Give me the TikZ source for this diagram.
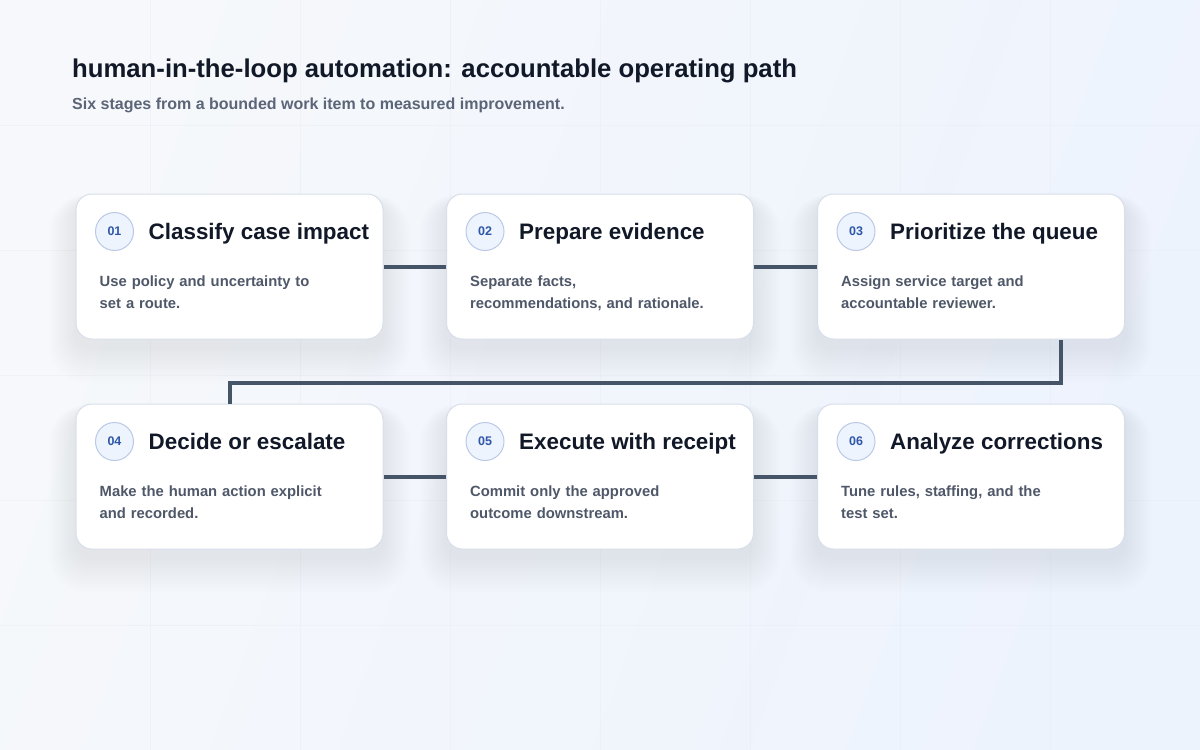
\documentclass[tikz,border=0pt]{standalone}
\usepackage{fontspec}
\setmainfont{Liberation Sans}
\usetikzlibrary{calc}

\definecolor{bgA}{HTML}{F6F8FB}
\definecolor{bgB}{HTML}{EDF3FD}
\definecolor{gridc}{HTML}{E6EBF3}
\definecolor{cardborder}{HTML}{D8DFEB}
\definecolor{titlec}{HTML}{111827}
\definecolor{subc}{HTML}{5B6577}
\definecolor{descc}{HTML}{4F5869}
\definecolor{linec}{HTML}{465467}
\definecolor{circfill}{HTML}{EEF4FE}
\definecolor{circborder}{HTML}{B9C9E6}
\definecolor{numc}{HTML}{2F57A8}
\definecolor{shadowc}{HTML}{8496C2}

\tikzset{
  card/.style={draw=cardborder, line width=1pt, fill=white, rounded corners=16pt,
    minimum width=307pt, minimum height=145pt, inner sep=0pt},
  numcirc/.style={circle, draw=circborder, line width=1pt, fill=circfill,
    minimum size=38pt, inner sep=0pt, text=numc, font=\fontsize{12.5}{14}\selectfont\bfseries},
  cardtitle/.style={anchor=base west, inner sep=0pt, text=titlec,
    font=\fontsize{22.4}{26}\selectfont\bfseries},
  carddesc/.style={anchor=base west, inner sep=0pt, text=descc, align=left,
    text width=260pt, font=\fontsize{14.8}{22}\selectfont\bfseries},
  conn/.style={draw=linec, line width=4pt, line join=miter},
}

\newcommand{\stageshadow}[2]{%
  \foreach \i in {1,...,18} {
    \fill[shadowc, opacity=0.009, rounded corners={16pt+1.2*\i pt}]
      ($(#1,#2)+(-153.5-1.5*\i,-72.5-0.4*\i+8)$) rectangle
      ($(#1,#2)+(153.5+1.5*\i,72.5+2.0*\i+8)$);
  }
}
\newcommand{\stagecard}[6]{%
  % #1 name, #2 x, #3 y (centre), #4 number, #5 title, #6 description
  \node[card] (#1) at (#2,#3) {};
  \node[numcirc] (#1n) at ($(#1.north west)+(39,38)$) {#4};
  \node[cardtitle] (#1t) at ($(#1.north west)+(73,46)$) {#5};
  \node[carddesc] (#1d) at ($(#1.north west)+(24,93)$) {#6};
}

\begin{document}
\begin{tikzpicture}[x=1pt,y=-1pt]
\useasboundingbox (0,0) rectangle (1200,750);
\shade[left color=bgA, right color=bgB, shading angle=70] (0,0) rectangle (1200,750);
\foreach \x in {150,300,...,1050} \draw[gridc, line width=1pt, opacity=0.4] (\x,0) -- (\x,750);
\foreach \y in {125,250,375,500,625} \draw[gridc, line width=1pt, opacity=0.4] (0,\y) -- (1200,\y);

\node[anchor=base west, inner sep=0pt, text=titlec, font=\fontsize{25.7}{30}\selectfont\bfseries]
  (title) at (72,77) {human-in-the-loop automation: accountable operating path};
\node[anchor=base west, inner sep=0pt, text=subc, font=\fontsize{16}{20}\selectfont\bfseries]
  (subtitle) at (72,109) {Six stages from a bounded work item to measured improvement.};

\stageshadow{229.5}{266.5}
\stageshadow{600}{266.5}
\stageshadow{971}{266.5}
\stageshadow{229.5}{476.5}
\stageshadow{600}{476.5}
\stageshadow{971}{476.5}

\stagecard{c1}{229.5}{266.5}{01}{Classify case impact}{Use policy and uncertainty to\\set a route.}
\stagecard{c2}{600}{266.5}{02}{Prepare evidence}{Separate facts,\\recommendations, and rationale.}
\stagecard{c3}{971}{266.5}{03}{Prioritize the queue}{Assign service target and\\accountable reviewer.}
\stagecard{c4}{229.5}{476.5}{04}{Decide or escalate}{Make the human action explicit\\and recorded.}
\stagecard{c5}{600}{476.5}{05}{Execute with receipt}{Commit only the approved\\outcome downstream.}
\stagecard{c6}{971}{476.5}{06}{Analyze corrections}{Tune rules, staffing, and the\\test set.}

\draw[conn] (c1.east) -- (c2.west);
\draw[conn] (c2.east) -- (c3.west);
\coordinate (k1) at ($(c3.south west)+(244,0)$);
\coordinate (k2) at ($(c4.north)+(0,-21)$);
\draw[conn] (k1) |- (k2) -- (c4.north);
\draw[conn] (c4.east) -- (c5.west);
\draw[conn] (c5.east) -- (c6.west);
\end{tikzpicture}
\end{document}
